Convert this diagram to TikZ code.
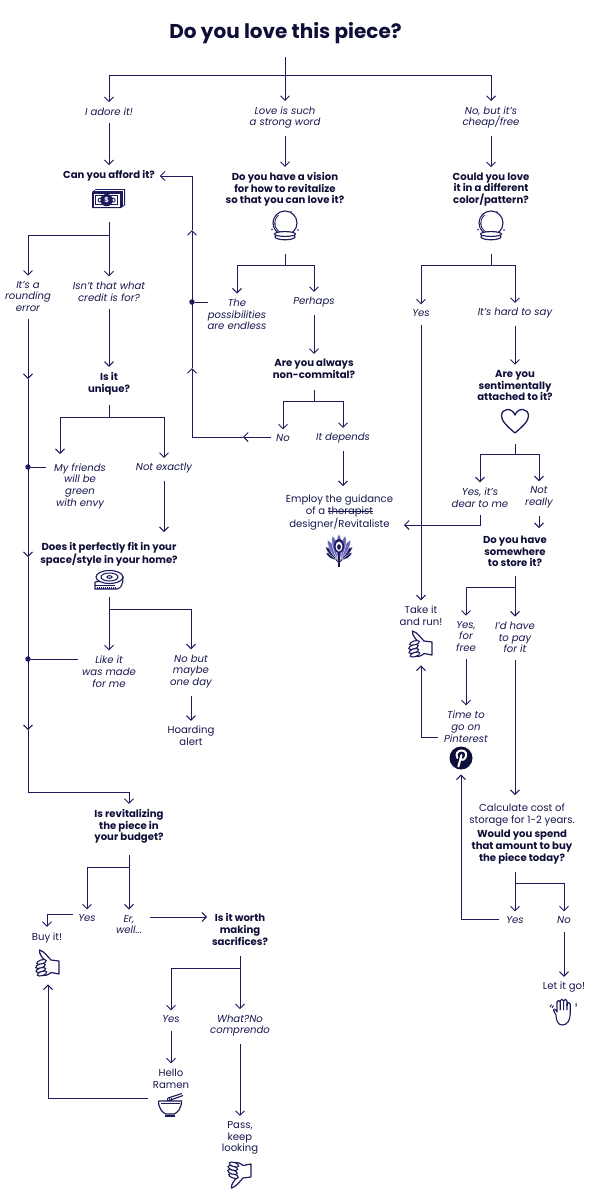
\documentclass[tikz,border=0pt]{standalone}
\usepackage{fontspec}
\setmainfont{Poppins}
\usetikzlibrary{arrows.meta}
\definecolor{ink}{HTML}{1C1B5C}
\definecolor{textink}{HTML}{17174F}
\definecolor{darkink}{HTML}{0E0E38}
\definecolor{plume}{HTML}{6A67B8}
\newcommand{\struck}[1]{\leavevmode\setbox0=\hbox{#1}\rlap{\raisebox{0.25em}{\rule{\wd0}{0.6pt}}}#1}
\tikzset{
  ans/.style={align=center,inner sep=0pt,outer xsep=5pt,outer ysep=5.5pt,yshift=-1.5pt,text=textink,font=\fontsize{10.1}{11.7}\selectfont\itshape},
  ask/.style={align=center,inner sep=0pt,outer xsep=5pt,outer ysep=5.5pt,yshift=-1.5pt,text=darkink,font=\fontsize{10.1}{11.7}\selectfont\bfseries},
  act/.style={align=center,inner sep=0pt,outer xsep=5pt,outer ysep=5.5pt,yshift=-1.5pt,text=textink,font=\fontsize{10.1}{11.7}\selectfont},
  iconbox/.style={inner sep=0pt,minimum width=24pt,minimum height=#1},
  junction/.style={circle,fill=ink,inner sep=0pt,minimum size=5.5pt},
  gap/.style={shorten <=2pt},
  moneyicon/.pic={
    \fill[ink] (-13,-10) -- (16,-10) -- (16,6) -- (12,9) -- (-17,9) -- (-17,-7) -- cycle;
    \draw[white,line width=0.6pt] (-14,-8.4) -- (14.4,-8.4) -- (14.4,6);
    \fill[white] (-15.4,-5.4) rectangle (10.6,7.6);
    \fill[ink] (-13.6,-3.6) rectangle (8.8,5.8);
    \fill[white] (-12.6,-2.6) rectangle (7.8,4.8);
    \fill[ink] (-2.4,1.1) circle (6.2pt);
    \draw[ink,line width=0.9pt] (-9,1.1) circle (2pt) (4.2,1.1) circle (2pt);
    \node[text=white,font=\fontsize{7}{7}\selectfont\bfseries,inner sep=0pt] at (-2.4,1.1) {\$};
  },
  ballicon/.pic={
    \draw[ink,line width=1.1pt] (0,-3) circle (12pt);
    \draw[ink,line width=0.8pt] (-10,-1) arc (190:130:10.5pt);
    \draw[ink,line width=0.8pt] (-10.3,-3) arc (180:300:10.5pt);
    \draw[ink,line width=1.1pt,fill=white] (0,10.8) ellipse (10pt and 3pt);
    \draw[ink,line width=1.1pt,fill=white] (0,8) ellipse (10.5pt and 2.4pt);
    \fill[ink] (-13,3.5) circle (0.8pt) (13,4) circle (0.8pt) (6,-14) circle (0.8pt);
  },
  tapeicon/.pic={
    \draw[ink,line width=1.1pt,fill=white] (-14,2) -- (-14,9) -- (8,9) .. controls (12,8) and (14,5) .. (14,-3) -- (-14,2);
    \foreach \tickx in {-12,-10,...,6} {\draw[ink,line width=0.7pt] (\tickx,6.5) -- (\tickx,9);}
    \draw[ink,line width=1.1pt] (-14,5.5) -- (6,5.5);
    \draw[ink,line width=1.1pt,fill=white] (0.5,-3) ellipse (13.5pt and 6.5pt);
    \draw[ink,line width=1pt] (0.5,-3) ellipse (8.5pt and 4pt);
    \draw[ink,line width=1pt] (0.5,-3) ellipse (2.6pt and 1.3pt);
  },
  hearticon/.pic={
    \draw[ink,line width=1.3pt,line join=round] (0,12) .. controls (-8,5) and (-13.5,0) .. (-13.5,-5) .. controls (-13.5,-13) and (-3,-14) .. (0,-6) .. controls (3,-14) and (13.5,-13) .. (13.5,-5) .. controls (13.5,0) and (8,5) .. (0,12);
  },
  peacockicon/.pic={
    \foreach \spoke/\reach in {-62/15,62/15,-46/19,46/19} {\filldraw[fill=ink,draw=white,line width=0.3pt,rotate around={\spoke:(0,9)}] (0,9) .. controls (-3.5,3) and (-3,9-\reach+4) .. (0,9-\reach) .. controls (3,9-\reach+4) and (3.5,3) .. (0,9);}
    \foreach \spoke/\reach in {-30/23,30/23,-15/25,15/25,0/26} {\filldraw[fill=plume,draw=white,line width=0.3pt,rotate around={\spoke:(0,9)}] (0,9) .. controls (-4,3) and (-3.5,9-\reach+5) .. (0,9-\reach) .. controls (3.5,9-\reach+5) and (4,3) .. (0,9);}
    \fill[ink] (0,-5) ellipse (5pt and 7pt);
    \fill[white] (0,-4.5) ellipse (3.4pt and 5pt);
    \fill[ink] (0,-4) ellipse (1.9pt and 2.8pt);
    \draw[ink,line width=1.1pt] (0,1) -- (0,16);
    \draw[ink,line width=0.9pt] (-3,9) -- (0,11.5) -- (3,9);
  },
  thumbicon/.pic={
    \draw[ink,line width=1.2pt,line join=round] (-3.5,-3) .. controls (-6,-6) and (-9,-9) .. (-8.5,-13) .. controls (-4,-12) and (0,-6) .. (3,-3) -- (11,-2) -- (11,11) -- (3,9.5) .. controls (0,12.5) and (-4,13) .. (-6,12);
    \foreach \fingery/\fingerx in {-1/-6.5,3/-7.5,7/-7.2,10.5/-6} {\draw[ink,line width=1.1pt,fill=white,rotate around={18:(\fingerx,\fingery)}] (\fingerx,\fingery) ellipse (5pt and 2.1pt);}
  },
  bowlicon/.pic={
    \draw[ink,line width=1.1pt] (-2,-4) -- (13,-9.5) (-2,-7) -- (12,-11.5);
    \draw[ink,line width=0.9pt] (-3,-7) -- (-3,-4) (-1,-7) -- (-1,-4) (1,-7.5) -- (1,-4);
    \draw[ink,line width=1.2pt,fill=white] (-11.5,-4) -- (11.5,-4) .. controls (11.5,4) and (7,8) .. (4,9) -- (-4,9) .. controls (-7,8) and (-11.5,4) .. (-11.5,-4);
    \draw[ink,line width=1.2pt] (-5,11) -- (5,11);
    \draw[ink,line width=0.8pt] (-9.5,-1.5) -- (9.5,-1.5);
  },
  handicon/.pic={
    \draw[ink,line width=1.1pt,line join=round] (-7,3) -- (-9.5,-1.5) .. controls (-10,-3) and (-8.2,-3.5) .. (-7.3,-2) -- (-6,0) -- (-6,-10) arc (180:0:1.6pt) -- (-2.8,-2) (-2.8,-11) arc (180:0:1.7pt) -- (0.6,-2) (0.6,-11) arc (180:0:1.7pt) -- (4,-2) (4,-8) arc (180:0:1.6pt) -- (7.2,2) .. controls (7,9) and (4,13) .. (-1,13) .. controls (-5,13) and (-7,8) .. (-7,3);
    \draw[ink,line width=1.1pt] (-2.8,-11) -- (-2.8,-9) (4,-8) -- (4,-6);
    \draw[ink,line width=1pt] (-13,-5) -- (-11.5,-7.5) (-11,-4) -- (-9.5,-6.5) (13,-5.5) -- (13,-9);
  },
  pinicon/.pic={
    \fill[darkink] (0,0) circle (11.5pt);
    \draw[white,line width=2pt,line cap=round] (-3.6,0) .. controls (-6,-4.5) and (-3,-7.5) .. (0.7,-7.5) .. controls (5,-7.5) and (6,-3.5) .. (4.5,-0.5) .. controls (3,2.5) and (0,2.2) .. (-0.5,0.8);
    \draw[white,line width=2pt,line cap=round] (0.5,-3) -- (-2.6,8.5);
  },
}
\begin{document}
\begin{tikzpicture}[x=1pt,y=-1pt,>={Straight Barb[length=4.5pt,width=9pt]},every path/.append style={line width=0.95pt,color=ink}]
\useasboundingbox (0,0) rectangle (597,1200);
\node[ask,text=darkink,outer ysep=0pt,font=\fontsize{20}{24}\selectfont\bfseries] (title) at (285.5,31.5) {Do you love this piece?};
\coordinate (topIn) at (285,57);
\coordinate (topSplit) at (285,75);
\node[ans] (adore) at (109,110) {I adore it!};
\node[ans] (strong) at (285,116) {Love is such\\a strong word};
\node[ans] (cheap) at (491,116) {No, but it's\\cheap/free};
\draw (topIn) -- (topSplit);
\draw[->] (topIn) -- (strong);
\draw[->] (topSplit) -| (adore);
\draw[->] (topSplit) -| (cheap);

\node[ask] (afford) at (109,174.5) {Can you afford it?};
\node[ask] (vision) at (285,188) {Do you have a vision\\for how to revitalize\\so that you can love it?};
\node[ask] (color) at (491,188) {Could you love\\it in a different\\color/pattern?};
\draw[->,gap] (adore) -- (afford);
\draw[->,gap] (strong) -- (vision);
\draw[->,gap] (cheap) -- (color);
\node[iconbox=46pt] (money) at (109,199) {};
\pic at (money) {moneyicon};
\node[iconbox=56pt] (ballA) at (285,226) {};
\pic at (ballA) {ballicon};
\node[iconbox=56pt] (ballB) at (491,226) {};
\pic at (ballB) {ballicon};

\coordinate (moneySplit) at (109,235);
\node[ans] (rounding) at (28,295) {It's a\\rounding\\error};
\node[ans] (credit) at (109,290) {Isn't that what\\credit is for?};
\draw (money.south) -- (moneySplit);
\draw[->] (money.south) -- (credit);
\draw[->] (moneySplit) -| (rounding);

\coordinate (trunkA) at (28,379);
\coordinate (trunkB) at (28,557);
\coordinate (trunkC) at (28,730);
\node[ask] (budget) at (129,825) {Is revitalizing\\the piece in\\your budget?};
\draw[->,gap] (rounding) -- (trunkA);
\draw[->] (trunkA) -- (trunkB);
\draw[->] (trunkB) -- (trunkC);
\draw[->] (trunkC) |- (129,792) -- (budget);

\node[ask] (unique) at (109,382) {Is it\\unique?};
\draw[->,gap] (credit) -- (unique);
\coordinate (uniqueOut) at (109,405);
\coordinate (uniqueSplit) at (109,417);
\coordinate (friendsIn) at (60,454);
\node[ans] (friends) at (80,484.5) {My friends\\will be\\green\\with envy};
\node[ans] (exactly) at (164,467) {Not exactly};
\draw (uniqueOut) -- (uniqueSplit);
\draw[->] (uniqueSplit) -| (friendsIn);
\draw[->] (uniqueSplit) -| (exactly);
\node[junction] (dotA) at (28,467) {};
\coordinate (friendsOut) at (46,467);
\draw (dotA) -- (friendsOut);

\node[ask] (fit) at (109,553) {Does it perfectly fit in your\\space/style in your home?};
\coordinate (fitIn) at (164,532);
\draw[->,gap] (exactly) -- (fitIn);
\node[iconbox=34pt] (tape) at (109,580) {};
\pic at (tape) {tapeicon};
\coordinate (tapeSplit) at (109,609);
\node[ans] (like) at (109,670) {Like it\\was made\\for me};
\node[ans] (someday) at (191,670) {No but\\maybe\\one day};
\draw[->] (tape.south) -- (like);
\draw[->] (tapeSplit) -| (someday);
\node[junction] (dotB) at (28,659) {};
\coordinate (likeOut) at (78,659);
\draw (dotB) -- (likeOut);
\node[act] (hoarding) at (191,734.5) {Hoarding\\alert};
\draw[->,gap] (someday) -- (hoarding);

\coordinate (budgetOut) at (129,855);
\coordinate (budgetSplit) at (129,867);
\node[ans] (yesB) at (87,917) {Yes};
\node[ans] (er) at (129,923) {Er,\\well...};
\draw[->] (budgetOut) -- (er);
\draw[->] (budgetSplit) -| (yesB);
\node[act] (buy) at (47,936) {Buy it!};
\coordinate (yesBOut) at (73,914);
\draw[->] (yesBOut) -| (buy);
\node[iconbox=42pt] (thumbBuy) at (48,963) {};
\pic at (thumbBuy) {thumbicon};

\node[ask] (worth) at (240,928) {Is it worth\\making\\sacrifices?};
\coordinate (erOut) at (150,917);
\draw[->] (erOut) -- (erOut -| worth.west);
\coordinate (worthOut) at (240,956);
\coordinate (worthSplit) at (240,968);
\node[ans] (yesC) at (171,1018) {Yes};
\node[ans] (comprendo) at (240,1024) {What?No\\comprendo};
\draw[->] (worthOut) -- (comprendo);
\draw[->] (worthSplit) -| (yesC);
\node[act] (ramen) at (171,1077) {Hello\\Ramen};
\draw[->,gap] (yesC) -- (ramen);
\node[iconbox=24pt] (bowl) at (170,1105) {};
\pic at (bowl) {bowlicon};
\coordinate (bowlOut) at (148,1098);
\draw[->] (bowlOut) -| (thumbBuy);
\node[act] (pass) at (240,1136.5) {Pass,\\keep\\looking};
\draw[->,gap] (comprendo) -- (pass);
\pic[yscale=-1] at (240,1175) {thumbicon};

\coordinate (ballOutA) at (285,254);
\coordinate (ballSplitA) at (285,265);
\node[ans] (endless) at (237,313) {The\\possibilities\\are endless};
\node[ans] (perhaps) at (314,301) {Perhaps};
\draw (ballOutA) -- (ballSplitA);
\draw[->] (ballSplitA) -| (endless);
\draw[->] (ballSplitA) -| (perhaps);
\node[junction] (dotC) at (192,302) {};
\coordinate (endlessOut) at (208,302);
\draw (dotC) -- (endlessOut);
\node[ask] (noncommital) at (314,367.5) {Are you always\\non-commital?};
\draw[->,gap] (perhaps) -- (noncommital);
\coordinate (commitOut) at (314,390);
\coordinate (commitSplit) at (314,401);
\node[ans] (no) at (283,437) {No};
\node[ans] (depends) at (343,437) {It depends};
\draw (commitOut) -- (commitSplit);
\draw[->] (commitSplit) -| (no);
\draw[->] (commitSplit) -| (depends);
\coordinate (noMid) at (243,437);
\coordinate (backA) at (192,368);
\coordinate (backB) at (192,230);
\draw[->] (no.west |- noMid) -- (noMid);
\draw[->] (noMid) -| (backA);
\draw[->] (backA) -- (backB);
\draw[->] (backB) |- (afford.east);
\node[act] (employ) at (339.5,511) {Employ the guidance\\of a \struck{therapist}\\designer/Revitaliste};
\coordinate (employIn) at (343,486);
\draw[->,gap] (depends) -- (employIn);
\pic at (339,551) {peacockicon};

\coordinate (ballOutB) at (491,254);
\coordinate (ballSplitB) at (491,265);
\node[ans] (yesA) at (421,312) {Yes};
\node[ans] (hard) at (515,312) {It's hard to say};
\draw (ballOutB) -- (ballSplitB);
\draw[->] (ballSplitB) -| (yesA);
\draw[->] (ballSplitB) -| (hard);
\node[ask] (attached) at (515,384) {Are you\\sentimentally\\attached to it?};
\draw[->,gap] (hard) -- (attached);
\node[iconbox=46pt] (heart) at (515,421) {};
\pic at (heart) {hearticon};
\coordinate (heartSplit) at (515,454);
\node[ans] (dear) at (480,496) {Yes, it's\\dear to me};
\node[ans] (notreally) at (539,496) {Not\\really};
\draw (heart.south) -- (heartSplit);
\draw[->] (heartSplit) -| (dear);
\draw[->] (heartSplit) -| (notreally);
\coordinate (employOut) at (404,525);
\draw[->,gap] (dear) |- (employOut);
\node[ask] (store) at (515,550) {Do you have\\somewhere\\to store it?};
\coordinate (storeIn) at (539,528);
\draw[->,gap] (notreally) -- (storeIn);
\coordinate (storeOut) at (515,576);
\coordinate (storeSplit) at (515,587);
\node[ans] (free) at (466,635) {Yes,\\for\\free};
\node[ans] (pay) at (515,636) {I'd have\\to pay\\for it};
\draw[->] (storeOut) -- (pay);
\draw[->] (storeSplit) -| (free);

\node[act] (take) at (421,614) {Take it\\and run!};
\draw[->,gap] (yesA) -- (take);
\node[iconbox=42pt] (thumbTake) at (421,644) {};
\pic at (thumbTake) {thumbicon};
\node[ans] (pinterest) at (466,725) {Time to\\go on\\Pinterest};
\draw[->,gap] (free) -- (pinterest);
\node[iconbox=32pt] (pin) at (461,758) {};
\pic at (pin) {pinicon};
\coordinate (pinterestOut) at (438,737);
\draw[->] (pinterestOut) -| (thumbTake);

\node[act] (calc) at (522,813.5) {Calculate cost of\\storage for 1-2 years.};
\node[ask] (spend) at (522,845.5) {Would you spend\\that amount to buy\\the piece today?};
\coordinate (calcIn) at (515,795);
\draw[->,gap] (pay) -- (calcIn);
\coordinate (spendOut) at (515,872);
\coordinate (spendSplit) at (515,883);
\node[ans] (yesD) at (515,919) {Yes};
\node[ans] (noB) at (564,919) {No};
\draw[->] (spendOut) -- (yesD);
\draw[->] (spendSplit) -| (noB);
\coordinate (yesDOut) at (499,919);
\draw[->] (yesDOut) -| (pin);
\node[act] (letgo) at (564,986) {Let it go!};
\draw[->,gap] (noB) -- (letgo);
\pic at (563,1012) {handicon};
\end{tikzpicture}
\end{document}
